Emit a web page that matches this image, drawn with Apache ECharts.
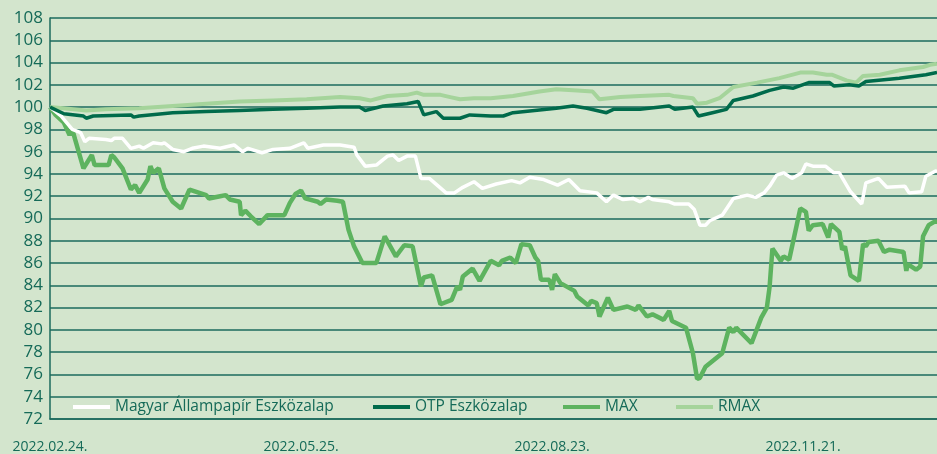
<!DOCTYPE html>
<html>
<head>
<meta charset="utf-8">
<script src="https://cdn.jsdelivr.net/npm/echarts@6/dist/echarts.min.js"></script>
<style>
  html, body { margin: 0; padding: 0; background: #d3e5cd; }
  #chart { width: 937px; height: 454px; }
</style>
</head>
<body>
<div id="chart"></div>
<script>
// x values are days counted from 2022.02.24.
var tickLabels = ['2022.02.24.', '2022.05.25.', '2022.08.23.', '2022.11.21.']
var seriesNames = ['Magyar Állampapír Eszközalap', 'OTP Eszközalap', 'MAX', 'RMAX']

var mapDays = [0, 4, 7, 8, 11, 12.5, 14, 20, 22, 23, 26, 29, 32, 33.5, 37, 40, 41, 44, 48, 51, 55, 61, 66, 69, 71, 76, 80, 86, 91, 92.5, 98, 104, 109, 110, 113, 117, 121, 123, 125, 128, 131, 133, 136, 142, 145, 148, 152, 155, 160, 165.5, 168.5, 172, 177, 182, 186, 190, 196, 199.5, 202, 205.5, 209, 211.5, 214.5, 216, 222, 224, 229, 231, 233, 235, 236.5, 241, 245, 250, 253, 256, 258, 260.5, 263, 266, 269.5, 271, 273.5, 278, 281, 283, 287, 291, 292.5, 297, 300, 306.5, 308, 312.5, 314, 317, 318]
var mapValues = [100, 99.2, 98.3, 98.0, 97.7, 96.9, 97.2, 97.1, 97.0, 97.2, 97.2, 96.3, 96.5, 96.3, 96.8, 96.7, 96.8, 96.2, 96.0, 96.3, 96.5, 96.3, 96.6, 96.0, 96.3, 95.9, 96.2, 96.3, 96.8, 96.3, 96.6, 96.6, 96.4, 95.7, 94.7, 94.8, 95.6, 95.7, 95.2, 95.6, 95.6, 93.6, 93.6, 92.3, 92.3, 92.8, 93.3, 92.7, 93.1, 93.4, 93.2, 93.7, 93.5, 93.0, 93.5, 92.5, 92.3, 91.5, 92.1, 91.7, 91.8, 91.5, 91.9, 91.7, 91.5, 91.3, 91.3, 90.8, 89.4, 89.4, 89.8, 90.3, 91.8, 92.1, 91.9, 92.3, 92.9, 93.9, 94.1, 93.6, 94.1, 94.9, 94.7, 94.7, 94.1, 94.1, 92.4, 91.3, 93.2, 93.6, 92.8, 92.9, 92.3, 92.4, 93.8, 94.2, 94.3]

var otpDays = [0, 5, 12, 13, 15.5, 29, 30, 32, 44, 56, 68, 80, 92, 104, 111, 113, 119.5, 128, 132, 134, 138.5, 141, 147, 150.5, 158, 162.5, 166, 181.5, 187.5, 192.5, 199.5, 202, 211.5, 222, 224, 230.5, 232.5, 237.5, 242.5, 245, 252, 258, 263, 266.5, 272, 279.5, 281, 286.5, 290, 292.5, 304.5, 314, 318]
var otpValues = [100, 99.4, 99.2, 99.0, 99.2, 99.3, 99.1, 99.2, 99.5, 99.6, 99.7, 99.8, 99.9, 100.0, 100.0, 99.7, 100.1, 100.3, 100.5, 99.3, 99.6, 99.0, 99.0, 99.3, 99.2, 99.2, 99.5, 99.9, 100.1, 99.9, 99.5, 99.8, 99.8, 100.1, 99.8, 100.0, 99.2, 99.5, 99.8, 100.6, 101.0, 101.5, 101.8, 101.7, 102.2, 102.2, 101.9, 102.0, 101.9, 102.3, 102.6, 102.9, 103.1]

var maxDays = [0, 2, 5, 7, 8, 9, 12, 15, 16, 21, 22, 23, 26, 29, 30.5, 32, 35, 36, 37, 39, 41, 42, 44, 47, 50, 56, 57, 61, 63, 64.5, 68, 68.5, 70, 72, 75, 78, 84, 86, 88, 90, 91.5, 96, 97, 99, 103, 105, 107, 109, 112, 117, 120, 124, 127, 130, 133, 134, 137, 140, 144, 146, 147, 148, 151.5, 154, 158, 161, 162, 165, 167, 169, 172, 174, 175, 176, 179, 180, 181, 183, 188, 189, 193, 194, 196, 197, 200, 202, 207, 210, 211, 214, 216, 220, 222, 223, 228, 230.5, 232, 233, 235, 238, 241, 243.5, 245, 246, 251.5, 255, 257, 258, 259, 262, 263, 265, 269, 271, 272, 273.5, 277, 279, 280, 283, 284, 285, 287, 290, 291.5, 292.5, 293.5, 297, 299, 301, 306, 307, 307.5, 310.5, 312, 313, 315, 317, 318]
var maxValues = [100, 99.3, 98.6, 97.5, 98.0, 97.1, 94.5, 95.7, 94.8, 94.8, 95.7, 95.5, 94.5, 92.6, 93.0, 92.3, 93.5, 94.7, 94.1, 94.5, 92.7, 92.3, 91.5, 90.9, 92.6, 92.1, 91.8, 92.0, 92.1, 91.7, 91.5, 90.3, 90.7, 90.2, 89.5, 90.3, 90.3, 91.4, 92.2, 92.5, 91.8, 91.5, 91.3, 91.7, 91.6, 91.5, 89.0, 87.5, 86.0, 86.0, 88.4, 86.6, 87.6, 87.5, 83.9, 84.7, 84.9, 82.3, 82.7, 83.9, 83.6, 84.8, 85.5, 84.4, 86.2, 85.8, 86.2, 86.5, 86.0, 87.7, 87.6, 86.5, 86.2, 84.5, 84.5, 83.6, 85.0, 84.2, 83.5, 83.0, 82.2, 82.6, 82.4, 81.2, 82.9, 81.8, 82.1, 81.8, 82.2, 81.2, 81.4, 80.9, 81.7, 80.8, 80.2, 77.9, 75.6, 75.7, 76.7, 77.3, 77.9, 80.2, 79.8, 80.2, 78.8, 81.1, 82.0, 83.9, 87.3, 86.2, 86.6, 86.3, 90.9, 90.6, 88.9, 89.4, 89.5, 88.3, 89.5, 88.8, 87.2, 87.5, 84.9, 84.4, 87.7, 87.5, 87.9, 88.0, 87.0, 87.2, 87.0, 85.3, 85.9, 85.4, 85.7, 88.4, 89.4, 89.7, 89.7]

var rmaxDays = [0, 13, 20, 32, 44, 56, 68, 80, 92, 104, 111, 115, 121, 128, 131.5, 134, 140, 143.5, 147, 152, 158, 166, 175.5, 181.5, 189, 194.5, 197, 204.5, 211.5, 222, 223.5, 230.5, 232, 235.5, 240, 245, 253.5, 261.5, 269, 273.5, 278.5, 280.5, 285.5, 289, 291.5, 297.5, 304.5, 313, 315.5, 318]
var rmaxValues = [100, 99.7, 99.8, 99.9, 100.1, 100.3, 100.5, 100.6, 100.7, 100.9, 100.8, 100.6, 101.0, 101.1, 101.3, 101.1, 101.1, 100.9, 100.7, 100.8, 100.8, 101.0, 101.4, 101.6, 101.5, 101.4, 100.7, 100.9, 101.0, 101.1, 101.0, 100.8, 100.3, 100.4, 100.8, 101.8, 102.2, 102.6, 103.1, 103.1, 102.9, 102.9, 102.4, 102.2, 102.8, 102.9, 103.3, 103.6, 103.8, 103.9]

var lineColors = ['#ffffff', '#006b4b', '#5db35f', '#a5d49b']
var lineWidths = [3.5, 3.5, 4.5, 4]
var textColor = '#156a58'
var fontName = 'Open Sans'

function pairs (days, values) {
  return days.map(function (d, i) { return [d, values[i]] })
}

var seriesData = [
  pairs(mapDays, mapValues),
  pairs(otpDays, otpValues),
  pairs(maxDays, maxValues),
  pairs(rmaxDays, rmaxValues)
]

var chart = echarts.init(document.getElementById('chart'))

// one legend per item so each sits where the original has it
var legendLefts = [73, 373, 563, 676]
var legends = seriesNames.map(function (name, i) {
  return {
    data: [name],
    left: legendLefts[i],
    top: 399,
    icon: 'rect',
    itemWidth: 37,
    itemHeight: 4,
    itemGap: 0,
    selectedMode: false,
    padding: 0,
    textStyle: { color: textColor, fontSize: 15.5, fontFamily: fontName }
  }
})

var option = {
  backgroundColor: '#d3e5cd',
  animation: false,
  legend: legends,
  grid: { left: 50, right: 0, top: 18, bottom: 35 },
  xAxis: {
    type: 'value',
    min: 0,
    max: 318,
    interval: 90,
    axisLine: { show: true, lineStyle: { color: '#1b6a5c', width: 1.5 } },
    axisTick: { show: false },
    splitLine: { show: false },
    axisLabel: {
      margin: 21,
      showMaxLabel: false,
      color: textColor,
      fontSize: 14,
      fontFamily: fontName,
      formatter: function (v) { return tickLabels[Math.round(v / 90)] || '' }
    }
  },
  yAxis: {
    type: 'value',
    min: 72,
    max: 108,
    interval: 2,
    axisLine: { show: true, lineStyle: { color: '#1b6a5c', width: 1.5 } },
    axisTick: { show: false },
    splitLine: { show: true, lineStyle: { color: '#1b6a5c', width: 1.5 } },
    axisLabel: { margin: 7, color: textColor, fontSize: 17, fontFamily: fontName }
  },
  series: seriesNames.map(function (name, i) {
    return {
      name: name,
      type: 'line',
      data: seriesData[i],
      showSymbol: false,
      symbol: 'none',
      color: lineColors[i],
      lineStyle: { color: lineColors[i], width: lineWidths[i] },
      z: [3, 4, 2, 1][i] + 2
    }
  })
}

chart.setOption(option)
</script>
</body>
</html>
